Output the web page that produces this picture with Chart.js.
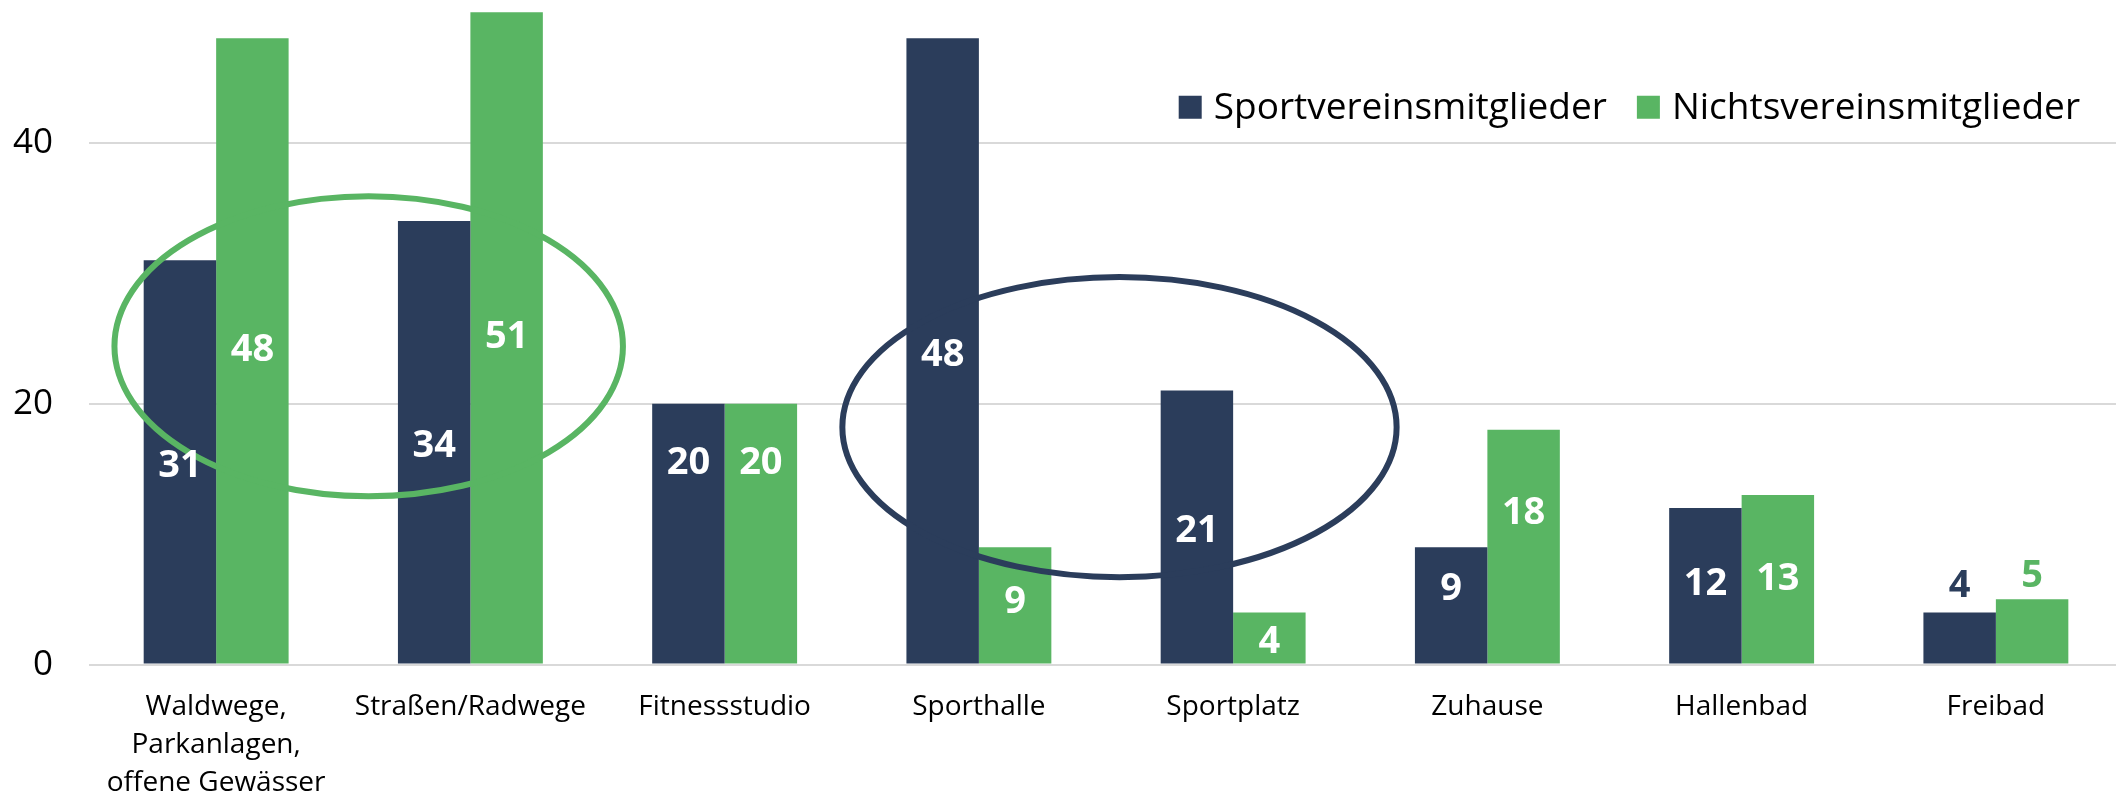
<!DOCTYPE html>
<html lang="de">
<head>
<meta charset="utf-8">
<title>Sportorte</title>
<script src="https://cdn.jsdelivr.net/npm/chart.js"></script>
<style>
    html, body { margin: 0; padding: 0; background: #fff; overflow: hidden; }
    #wrap { position: relative; width: 2124px; height: 803px; }
</style>
</head>
<body>
<div id="wrap"><canvas id="chart"></canvas></div>
<script>
const categories = [
    ["Waldwege,", "Parkanlagen,", "offene Gewässer"],
    "Straßen/Radwege",
    "Fitnessstudio",
    "Sporthalle",
    "Sportplatz",
    "Zuhause",
    "Hallenbad",
    "Freibad"
]
const seriesNames = ["Sportvereinsmitglieder", "Nichtsvereinsmitglieder"]
const vereinValues = [31, 34, 20, 48, 21, 9, 12, 4]
const nichtVereinValues = [48, 51, 20, 9, 4, 18, 13, 5]
const yTicks = [0, 20, 40]
const yMax = 50
// categories whose value labels sit above the bars
const labelsAbove = ["Freibad"]
// some value labels were moved by hand in the original (px, negative = up)
const labelNudge = [
    [0, 0, -74, 0, 0, -20, -6, 0],
    [-5, -5, -74, -7, 0, -38, -4, 3]
]

const navy = "#2b3d5b"
const green = "#59b563"
const fontFamily = '"Open Sans", "Noto Sans", sans-serif'

// the two rings, in category index / axis value units
const rings = [
    { color: green, x: 0.6, y: 24.4, rx: 1.0, ry: 11.5 },
    { color: navy, x: 3.553, y: 18.2, rx: 1.09, ry: 11.5 }
]

const ringPlugin = {
    id: "rings",
    afterDatasetsDraw(chart) {
        let ctx = chart.ctx
        let xs = chart.scales.x
        let ys = chart.scales.y
        ctx.save()
        ctx.lineWidth = 6
        rings.forEach(r => {
            let cx = xs.getPixelForValue(r.x)
            let cy = ys.getPixelForValue(r.y)
            let rx = xs.getPixelForValue(r.x + r.rx) - cx
            let ry = cy - ys.getPixelForValue(r.y + r.ry)
            ctx.strokeStyle = r.color
            ctx.beginPath()
            ctx.ellipse(cx, cy, rx, ry, 0, 0, Math.PI * 2)
            ctx.stroke()
        })
        ctx.restore()
    }
}

const barLabelPlugin = {
    id: "barLabels",
    afterDatasetsDraw(chart) {
        let ctx = chart.ctx
        let area = chart.chartArea
        ctx.save()
        ctx.font = "bold 38px " + fontFamily
        ctx.textAlign = "center"
        ctx.textBaseline = "middle"
        chart.data.datasets.forEach((ds, di) => {
            chart.getDatasetMeta(di).data.forEach((bar, i) => {
                let top = Math.max(bar.y, area.top)
                let name = chart.data.labels[i]
                let nudge = labelNudge[di][i] + 4
                if (labelsAbove.includes(name)) {
                    ctx.fillStyle = ds.backgroundColor
                    ctx.fillText(String(ds.data[i]), bar.x, top - 30 + nudge)
                } else {
                    ctx.fillStyle = "#ffffff"
                    ctx.fillText(String(ds.data[i]), bar.x, (top + bar.base) / 2 + nudge)
                }
            })
        })
        ctx.restore()
    }
}

// legend drawn inside the plot, top right
const insideLegendPlugin = {
    id: "insideLegend",
    afterDraw(chart) {
        let ctx = chart.ctx
        let area = chart.chartArea
        let box = 23
        let textGap = 12
        let itemGap = 30
        ctx.save()
        ctx.font = "37px " + fontFamily
        ctx.textBaseline = "middle"
        let items = chart.data.datasets.map(ds => ({
            text: ds.label,
            color: ds.backgroundColor,
            width: box + textGap + ctx.measureText(ds.label).width
        }))
        let total = items.reduce((s, it) => s + it.width, 0) + itemGap * (items.length - 1)
        let x = area.right - 43 - total
        let y = area.top + 95
        items.forEach(it => {
            ctx.fillStyle = it.color
            ctx.fillRect(x, y - box / 2, box, box)
            ctx.fillStyle = "#000000"
            ctx.fillText(it.text, x + box + textGap, y + 1)
            x += it.width + itemGap
        })
        ctx.restore()
    }
}

function drawChart() {
    Chart.defaults.font.family = fontFamily

    let chartElement = document.getElementById("chart")

    const chartData = {
        labels: categories,
        datasets: [
            { label: seriesNames[0], data: vereinValues, backgroundColor: navy, clip: 0 },
            { label: seriesNames[1], data: nichtVereinValues, backgroundColor: green, clip: 0 }
        ]
    }

    const chartConfig = {
        type: "bar",
        data: chartData,
        options: {
            responsive: true,
            maintainAspectRatio: false,
            animation: false,
            layout: { padding: { left: 13, right: 1, top: 12, bottom: 1 } },
            datasets: { bar: { categoryPercentage: 0.57, barPercentage: 1 } },
            scales: {
                x: {
                    grid: {
                        display: true,
                        drawOnChartArea: false,
                        drawTicks: true,
                        tickLength: 24,
                        tickColor: "rgba(0,0,0,0)"
                    },
                    border: { display: false },
                    ticks: {
                        color: "#000000",
                        font: { size: 28, lineHeight: 1.35 },
                        padding: 0,
                        maxRotation: 0,
                        autoSkip: false
                    }
                },
                y: {
                    min: 0,
                    max: yMax,
                    grid: {
                        color: "#d9d9d9",
                        lineWidth: 2,
                        drawTicks: true,
                        tickLength: 36,
                        tickColor: "rgba(0,0,0,0)"
                    },
                    border: { display: false },
                    ticks: { color: "#000000", font: { size: 35, lineHeight: 0.7 }, padding: 0 },
                    afterBuildTicks: scale => {
                        scale.ticks = yTicks.map(v => ({ value: v }))
                    }
                }
            },
            plugins: {
                legend: { display: false },
                tooltip: { enabled: false }
            }
        },
        plugins: [ringPlugin, barLabelPlugin, insideLegendPlugin]
    }

    new Chart(chartElement.getContext("2d"), chartConfig)
}

drawChart()
</script>
</body>
</html>
